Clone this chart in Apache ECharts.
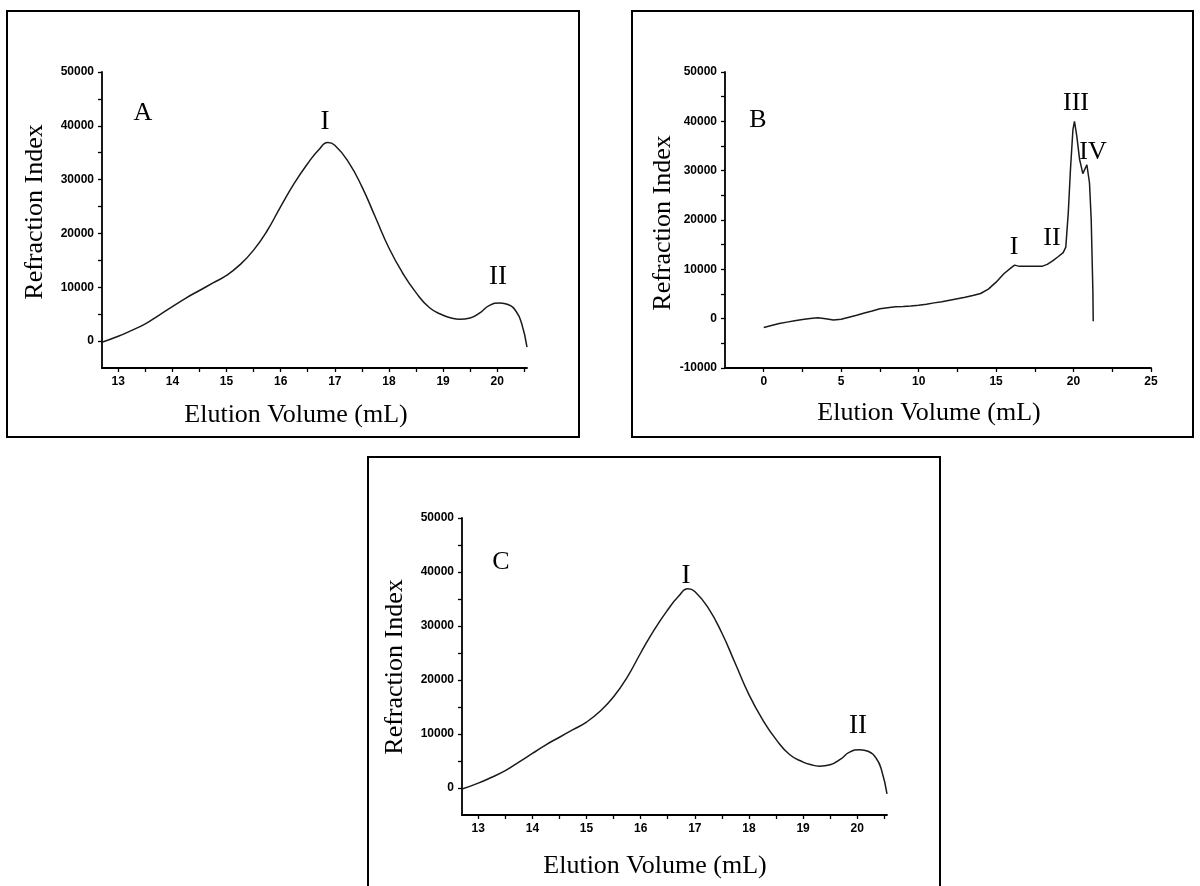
<!DOCTYPE html>
<html>
<head>
<meta charset="utf-8">
<script src="https://cdn.jsdelivr.net/npm/echarts@6/dist/echarts.min.js"></script>
<style>
html,body{margin:0;padding:0;background:#fff;}
#chart{width:1200px;height:886px;}
</style>
</head>
<body>
<div id="chart"></div>
<script>
// ---- Data ----
// Panel A
var volA = [12.7, 13.0, 13.25, 13.5, 13.75, 14.0, 14.25, 14.5, 14.75, 15.0, 15.25, 15.5, 15.75, 16.0, 16.25, 16.5, 16.7, 16.87, 17.0, 17.25, 17.5, 17.75, 18.0, 18.25, 18.5, 18.75, 19.0, 19.15, 19.3, 19.5, 19.7, 19.85, 20.05, 20.2, 20.35, 20.45, 20.55];
var riA  = [-200, 900, 2000, 3200, 4800, 6400, 8000, 9400, 10800, 12200, 14200, 16900, 20500, 25000, 29300, 33000, 35500, 36900, 36400, 33300, 28700, 23000, 17300, 12700, 9000, 6200, 4800, 4300, 4050, 4300, 5400, 6600, 7100, 6800, 5500, 3300, -1100];
// Panel B
var volB = [0, 0.5, 1, 1.5, 2, 2.5, 3, 3.5, 4, 4.5, 5, 5.5, 6, 6.5, 7, 7.5, 8, 8.5, 9, 9.5, 10, 10.5, 11, 11.5, 12, 12.5, 13, 13.5, 14, 14.5, 15, 15.5, 16, 16.2, 16.5, 17, 17.5, 18, 18.3, 18.65, 19.0, 19.33, 19.5, 19.66, 19.8, 19.96, 20.06, 20.21, 20.39, 20.6, 20.86, 21.03, 21.14, 21.25, 21.27];
var riB  = [-1800, -1400, -1000, -700, -400, -150, 50, 200, 0, -250, -100, 300, 700, 1150, 1550, 2000, 2200, 2400, 2450, 2550, 2700, 2900, 3200, 3450, 3750, 4050, 4350, 4700, 5100, 6000, 7400, 9100, 10400, 10850, 10600, 10600, 10650, 10650, 11000, 11700, 12550, 13400, 14500, 21500, 30200, 38300, 40000, 37000, 32300, 29400, 31200, 27500, 20100, 5300, -500];
// Panel C
var volC = [12.7, 13.0, 13.25, 13.5, 13.75, 14.0, 14.25, 14.5, 14.75, 15.0, 15.25, 15.5, 15.75, 16.0, 16.25, 16.5, 16.7, 16.87, 17.0, 17.25, 17.5, 17.75, 18.0, 18.25, 18.5, 18.75, 19.0, 19.15, 19.3, 19.5, 19.7, 19.85, 20.05, 20.2, 20.35, 20.45, 20.55];
var riC  = [-200, 900, 2000, 3200, 4800, 6400, 8000, 9400, 10800, 12200, 14200, 16900, 20500, 25000, 29300, 33000, 35500, 36900, 36400, 33300, 28700, 23000, 17300, 12700, 9000, 6200, 4800, 4300, 4050, 4300, 5400, 6600, 7100, 6800, 5500, 3300, -1100];

// Tick labels / tick positions
var xLabelsAC = [13, 14, 15, 16, 17, 18, 19, 20];
var xTicksAC  = [13, 13.5, 14, 14.5, 15, 15.5, 16, 16.5, 17, 17.5, 18, 18.5, 19, 19.5, 20, 20.5];
var yLabelsAC = [0, 10000, 20000, 30000, 40000, 50000];
var yTicksAC  = [0, 5000, 10000, 15000, 20000, 25000, 30000, 35000, 40000, 45000, 50000];
var xLabelsB  = [0, 5, 10, 15, 20, 25];
var xTicksB   = [0, 2.5, 5, 7.5, 10, 12.5, 15, 17.5, 20, 22.5, 25];
var yLabelsB  = [-10000, 0, 10000, 20000, 30000, 40000, 50000];
var yTicksB   = [-10000, -5000, 0, 5000, 10000, 15000, 20000, 25000, 30000, 35000, 40000, 45000, 50000];

var peakLabelsA = ['I', 'II'];
var peakLabelsB = ['I', 'II', 'III', 'IV'];
var peakLabelsC = ['I', 'II'];

function zip(a, b) { return a.map(function (v, i) { return [v, b[i]]; }); }

var tickFont = { fontFamily: 'Liberation Sans', fontWeight: 'bold', fontSize: 12, color: '#000' };

function xAxisCfg(grid, min, max, labels, ticks) {
  return {
    type: 'value', gridIndex: grid, min: min, max: max,
    axisLine: { show: true, onZero: false, lineStyle: { color: '#000', width: 1.8 } },
    axisTick: { show: true, customValues: ticks, length: 4, lineStyle: { color: '#000', width: 1.3 } },
    axisLabel: Object.assign({ customValues: labels, margin: 8, formatter: function (v) { return String(v); } }, tickFont),
    splitLine: { show: false }
  };
}
function yAxisCfg(grid, min, max, labels, ticks) {
  return {
    type: 'value', gridIndex: grid, min: min, max: max,
    axisLine: { show: true, onZero: false, lineStyle: { color: '#000', width: 1.8 } },
    axisTick: { show: true, customValues: ticks, length: 4, lineStyle: { color: '#000', width: 1.3 } },
    axisLabel: Object.assign({ customValues: labels, margin: 8, formatter: function (v) { return String(v); } }, tickFont),
    splitLine: { show: false }
  };
}

var serif = 'Liberation Serif';
function txt(x, y, s, size, rot) {
  return {
    type: 'text', x: x, y: y, rotation: rot || 0,
    style: { text: s, fill: '#000', font: (size || 26) + 'px "' + serif + '"', align: 'center', verticalAlign: 'middle' }
  };
}
function box(x1, y1, x2, y2) {
  return { type: 'rect', shape: { x: x1, y: y1, width: x2 - x1, height: y2 - y1 }, style: { fill: 'none', stroke: '#000', lineWidth: 2 }, z: 100 };
}

var chart = echarts.init(document.getElementById('chart'), null, { renderer: 'canvas' });
var lineStyle = { color: '#1a1a1a', width: 1.5 };

chart.setOption({
  backgroundColor: '#fff',
  animation: false,
  grid: [
    { left: 102, top: 72, width: 425, height: 296 },
    { left: 725, top: 72, width: 426, height: 296 },
    { left: 462, top: 518, width: 425, height: 297 }
  ],
  xAxis: [
    xAxisCfg(0, 12.7, 20.55, xLabelsAC, xTicksAC),
    xAxisCfg(1, -2.5, 25, xLabelsB, xTicksB),
    xAxisCfg(2, 12.7, 20.55, xLabelsAC, xTicksAC)
  ],
  yAxis: [
    yAxisCfg(0, -5000, 50000, yLabelsAC, yTicksAC),
    yAxisCfg(1, -10000, 50000, yLabelsB, yTicksB),
    yAxisCfg(2, -5000, 50000, yLabelsAC, yTicksAC)
  ],
  series: [
    { type: 'line', xAxisIndex: 0, yAxisIndex: 0, data: zip(volA, riA), showSymbol: false, symbol: 'none', smooth: 0.5, lineStyle: lineStyle },
    { type: 'line', xAxisIndex: 1, yAxisIndex: 1, data: zip(volB, riB), showSymbol: false, symbol: 'none', smooth: false, lineStyle: lineStyle },
    { type: 'line', xAxisIndex: 2, yAxisIndex: 2, data: zip(volC, riC), showSymbol: false, symbol: 'none', smooth: 0.5, lineStyle: lineStyle }
  ],
  graphic: [
    box(7, 11, 579, 437),
    box(632, 11, 1193, 437),
    box(368, 457, 940, 895),
    // Panel A texts
    txt(35, 212, 'Refraction Index', 26, Math.PI / 2),
    txt(296, 415, 'Elution Volume (mL)', 26),
    txt(143, 113, 'A', 26),
    txt(325, 122, peakLabelsA[0], 27),
    txt(498, 277, peakLabelsA[1], 27),
    // Panel B texts
    txt(663, 223, 'Refraction Index', 26, Math.PI / 2),
    txt(929, 413, 'Elution Volume (mL)', 26),
    txt(758, 120, 'B', 26),
    txt(1014, 247, peakLabelsB[0], 26),
    txt(1052, 238, peakLabelsB[1], 26),
    txt(1076, 103, peakLabelsB[2], 26),
    txt(1093, 152, peakLabelsB[3], 26),
    // Panel C texts
    txt(395, 667, 'Refraction Index', 26, Math.PI / 2),
    txt(655, 866, 'Elution Volume (mL)', 26),
    txt(501, 562, 'C', 26),
    txt(686, 576, peakLabelsC[0], 27),
    txt(858, 726, peakLabelsC[1], 27)
  ]
});
</script>
</body>
</html>
